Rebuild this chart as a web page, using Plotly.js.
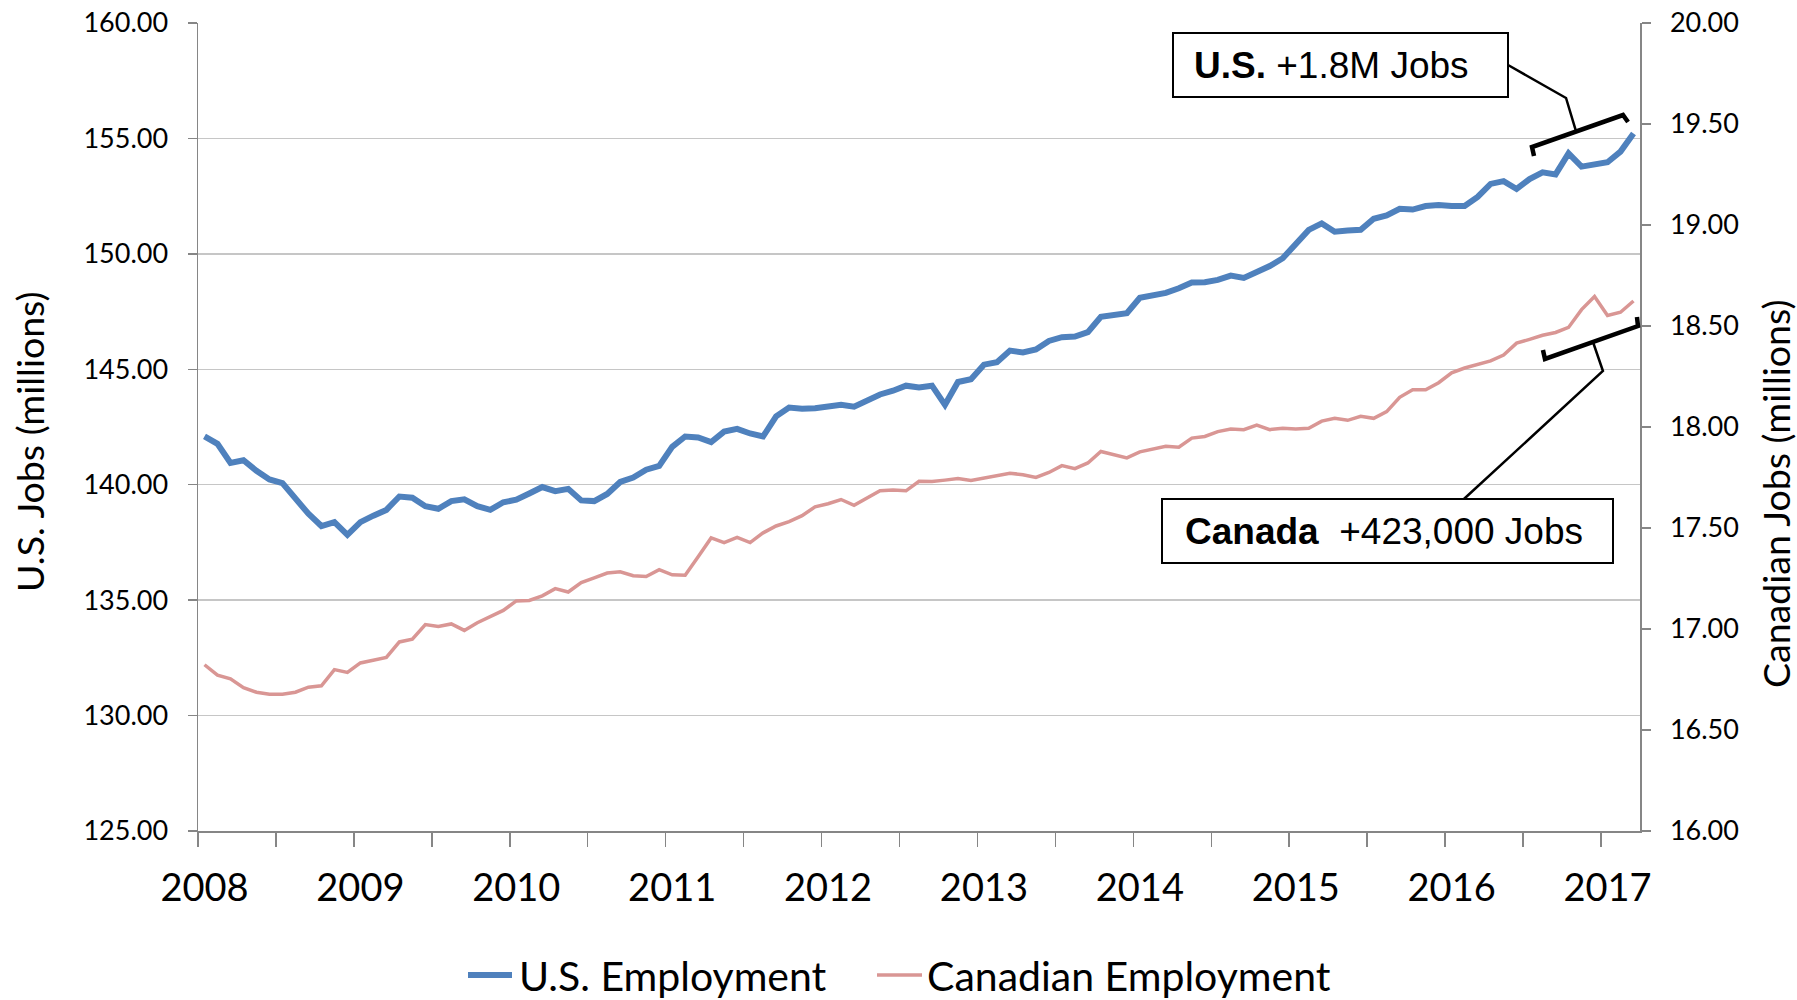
<!DOCTYPE html>
<html>
<head>
<meta charset="utf-8">
<script src="https://cdn.plot.ly/plotly-3.0.1.min.js"></script>
<style>
  html, body { margin: 0; padding: 0; background: #fff; }
  #chart { width: 1797px; height: 1000px; }
</style>
</head>
<body>
<div id="chart"></div>
<script>
// monthly values, Jan 2008 .. Mar 2017
const usJobs = [
  142.09, 141.77, 140.94, 141.06, 140.60, 140.23, 140.07, 139.40, 138.74, 138.21,
  138.38, 137.83, 138.38, 138.66, 138.91, 139.49, 139.44, 139.07, 138.96, 139.29,
  139.37, 139.07, 138.91, 139.24, 139.35, 139.62, 139.90, 139.72, 139.82, 139.32,
  139.29, 139.60, 140.12, 140.31, 140.65, 140.81, 141.64, 142.09, 142.05, 141.85,
  142.30, 142.42, 142.22, 142.09, 142.96, 143.34, 143.29, 143.31, 143.38, 143.46,
  143.38, 143.66, 143.91, 144.07, 144.29, 144.21, 144.29, 143.46, 144.45, 144.57,
  145.20, 145.31, 145.81, 145.73, 145.86, 146.23, 146.39, 146.42, 146.61, 147.27,
  147.32, 147.43, 148.10, 148.21, 148.31, 148.51, 148.76, 148.77, 148.87, 149.06,
  148.96, 149.21, 149.47, 149.81, 150.46, 151.04, 151.32, 150.96, 151.01, 151.04,
  151.52, 151.66, 151.95, 151.92, 152.07, 152.12, 152.07, 152.07, 152.47, 153.03,
  153.15, 152.81, 153.24, 153.53, 153.44, 154.35, 153.78, 153.87, 153.97, 154.43,
  155.21
];

const canJobs = [
  16.823, 16.772, 16.753, 16.710, 16.687, 16.677, 16.677, 16.687, 16.712, 16.719,
  16.799, 16.785, 16.832, 16.847, 16.859, 16.936, 16.950, 17.022, 17.012, 17.025,
  16.993, 17.031, 17.063, 17.092, 17.139, 17.141, 17.164, 17.200, 17.183, 17.230,
  17.253, 17.277, 17.283, 17.264, 17.260, 17.294, 17.268, 17.266, 17.358, 17.451,
  17.428, 17.453, 17.428, 17.476, 17.510, 17.532, 17.561, 17.605, 17.620, 17.641,
  17.612, 17.646, 17.684, 17.688, 17.684, 17.731, 17.730, 17.737, 17.745, 17.735,
  17.747, 17.756, 17.771, 17.764, 17.750, 17.775, 17.809, 17.794, 17.822, 17.879,
  17.864, 17.847, 17.877, 17.892, 17.905, 17.900, 17.945, 17.953, 17.977, 17.990,
  17.987, 18.009, 17.987, 17.994, 17.990, 17.994, 18.029, 18.043, 18.033, 18.053,
  18.043, 18.076, 18.147, 18.184, 18.184, 18.219, 18.268, 18.292, 18.311, 18.327,
  18.356, 18.415, 18.434, 18.454, 18.468, 18.493, 18.581, 18.646, 18.552, 18.568,
  18.624
];

const yearLabels = ["2008", "2009", "2010", "2011", "2012", "2013", "2014", "2015", "2016", "2017"];
const seriesNames = ["U.S. Employment", "Canadian Employment"];
const seriesColors = ["#4F81BD", "#D99694"];
const seriesWidths = [6, 3.5];

// month index on the x axis, one slot per month like an Excel category axis
const monthIdx = usJobs.map((_, i) => i);
const yearIdx = yearLabels.map((_, k) => k * 12);

const GRAY = "#868686";
const FONT = "Lato, 'Open Sans', sans-serif";
const BOXFONT = "'Liberation Sans', Arial, sans-serif";

// paper coords from pixel positions of the plot box (198..1640 x 23..831)
function px(x) { return (x - 198) / 1442; }
function py(y) { return (831 - y) / 808; }
function path(pts) {
  return pts.map((p, i) => (i ? "L" : "M") + px(p[0]).toFixed(4) + "," + py(p[1]).toFixed(4)).join(" ");
}

const traces = [
  {
    x: monthIdx, y: usJobs, name: seriesNames[0],
    type: "scatter", mode: "lines",
    line: { color: seriesColors[0], width: seriesWidths[0] },
    yaxis: "y"
  },
  {
    x: monthIdx, y: canJobs, name: seriesNames[1],
    type: "scatter", mode: "lines",
    line: { color: seriesColors[1], width: seriesWidths[1] },
    yaxis: "y2"
  }
];

const shapes = [
  // U.S. callout box
  { type: "rect", xref: "paper", yref: "paper", x0: px(1173), x1: px(1508), y0: py(97), y1: py(33),
    line: { color: "#000", width: 2 }, fillcolor: "#fff", layer: "above" },
  // Canada callout box
  { type: "rect", xref: "paper", yref: "paper", x0: px(1162), x1: px(1613), y0: py(563), y1: py(499),
    line: { color: "#000", width: 2 }, fillcolor: "#fff", layer: "above" },
  // U.S. leader + bracket
  { type: "path", xref: "paper", yref: "paper", layer: "above",
    path: path([[1508, 65], [1566, 98], [1576, 131]]), line: { color: "#000", width: 2.5 } },
  { type: "path", xref: "paper", yref: "paper", layer: "above",
    path: path([[1534, 156], [1532, 147], [1623, 115], [1628, 122]]), line: { color: "#000", width: 4.5 } },
  // Canada leader + bracket
  { type: "path", xref: "paper", yref: "paper", layer: "above",
    path: path([[1464, 499], [1603, 371], [1593, 342]]), line: { color: "#000", width: 2.5 } },
  { type: "path", xref: "paper", yref: "paper", layer: "above",
    path: path([[1543, 350], [1545, 359], [1638, 326], [1637, 317]]), line: { color: "#000", width: 4.5 } }
];

const annotations = [
  { xref: "paper", yref: "paper", x: px(1192), y: py(65), xanchor: "left", yanchor: "middle",
    text: "<b>U.S.</b> +1.8M Jobs", showarrow: false,
    font: { family: BOXFONT, size: 37, color: "#000" } },
  { xref: "paper", yref: "paper", x: px(1183), y: py(531), xanchor: "left", yanchor: "middle",
    text: "<b>Canada</b>\u00a0 +423,000 Jobs", showarrow: false,
    font: { family: BOXFONT, size: 37, color: "#000" } },
  // axis titles
  { xref: "paper", yref: "paper", x: px(29), y: py(442), xanchor: "center", yanchor: "middle",
    text: "U.S. Jobs (millions)", textangle: -90, showarrow: false,
    font: { family: FONT, size: 37.5, color: "#000" } },
  { xref: "paper", yref: "paper", x: px(1776), y: py(494), xanchor: "center", yanchor: "middle",
    text: "Canadian Jobs (millions)", textangle: -90, showarrow: false,
    font: { family: FONT, size: 37.5, color: "#000" } }
];

// legend drawn under the axis, Excel style
const legendY = 975;
const legendKeys = [[468, 512, 518], [877, 922, 926]];
seriesNames.forEach((name, k) => {
  const key = legendKeys[k];
  shapes.push({ type: "line", xref: "paper", yref: "paper",
    x0: px(key[0]), x1: px(key[1]), y0: py(legendY), y1: py(legendY),
    line: { color: seriesColors[k], width: seriesWidths[k] } });
  annotations.push({ xref: "paper", yref: "paper", x: px(key[2]), y: py(legendY),
    xanchor: "left", yanchor: "middle", text: name, showarrow: false, borderpad: 0,
    font: { family: FONT, size: 41, color: "#000" } });
});

const layout = {
  width: 1797,
  height: 1000,
  margin: { l: 198, r: 157, t: 23, b: 169 },
  paper_bgcolor: "#fff",
  plot_bgcolor: "#fff",
  font: { family: FONT, color: "#000" },
  showlegend: false,
  xaxis: {
    range: [-0.5, 110.5],
    tickmode: "array",
    tickvals: yearIdx,
    ticktext: yearLabels,
    ticks: "",
    tickfont: { size: 38, color: "#000" },
    ticklabelstandoff: 23,
    showgrid: false,
    zeroline: false,
    showline: true,
    linecolor: GRAY,
    linewidth: 1.5,
    minor: { tickmode: "linear", tick0: -0.5, dtick: 6, ticks: "outside", ticklen: 14,
             tickcolor: GRAY, tickwidth: 1.5, showgrid: false },
    fixedrange: true
  },
  yaxis: {
    range: [125, 160],
    dtick: 5,
    tickformat: ".2f",
    ticks: "outside",
    ticklen: 9,
    tickcolor: GRAY,
    tickwidth: 1.5,
    showline: true,
    linecolor: GRAY,
    linewidth: 1.5,
    gridcolor: "#c6c6c6",
    gridwidth: 1.3,
    zeroline: false,
    tickfont: { size: 27, color: "#000" },
    ticklabelstandoff: 14,
    fixedrange: true
  },
  yaxis2: {
    overlaying: "y",
    side: "right",
    range: [16, 20],
    dtick: 0.5,
    tickformat: ".2f",
    ticks: "outside",
    ticklen: 9,
    tickcolor: GRAY,
    tickwidth: 1.5,
    showline: true,
    linecolor: GRAY,
    linewidth: 1.5,
    showgrid: false,
    zeroline: false,
    tickfont: { size: 27, color: "#000" },
    ticklabelstandoff: 14,
    fixedrange: true
  },
  shapes: shapes,
  annotations: annotations
};

Plotly.newPlot("chart", traces, layout, { displayModeBar: false, staticPlot: true });
</script>
</body>
</html>
